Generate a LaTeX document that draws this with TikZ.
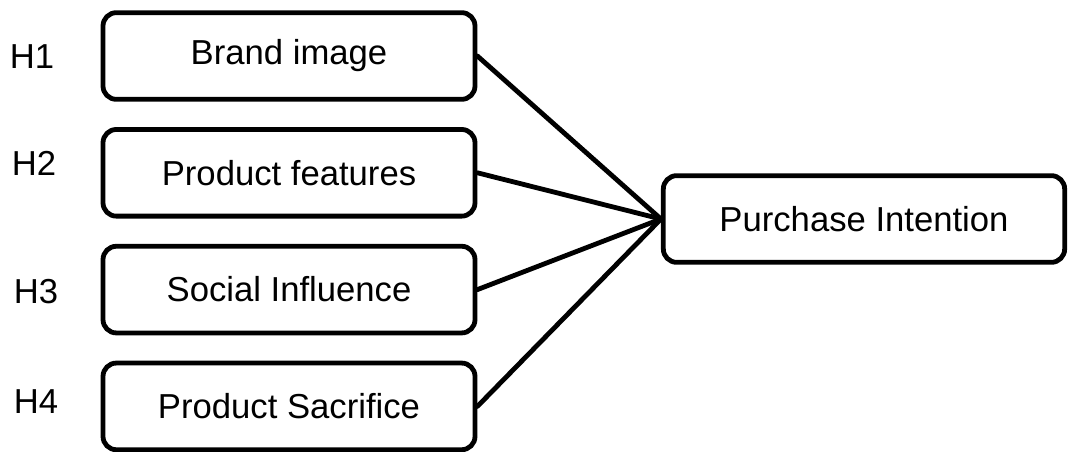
\documentclass[tikz,border=0pt]{standalone}
\usepackage{fontspec}
\setmainfont{Liberation Sans}
\usetikzlibrary{positioning}

\begin{document}
\begin{tikzpicture}[
    x=0.75pt, y=-0.75pt,
    node distance=19pt,
    factor/.style={rectangle, rounded corners=10pt, draw=black, line width=3.6pt, minimum width=279pt, minimum height=65pt, align=center, font=\fontsize{26}{30}\selectfont},
    result/.style={factor, minimum width=301pt},
    hyp/.style={font=\fontsize{26}{30}\selectfont},
    link/.style={line width=3.6pt, line cap=round}
]
    \useasboundingbox (0,0) rectangle (1070,452);

    \node[factor] (brand) at (289,56) {Brand image};
    \node[factor, below=of brand] (features) {Product features};
    \node[factor, below=of features] (social) {Social Influence};
    \node[factor, below=of social] (sacrifice) {Product Sacrifice};

    \node[result] (intention) at (864,219) {Purchase Intention};

    % hypotheses
    \node[hyp] (h1) at (32,57) {H1};
    \node[hyp] (h2) at (34,163) {H2};
    \node[hyp] (h3) at (36,292) {H3};
    \node[hyp] (h4) at (36,402) {H4};

    \draw[link] (brand.east) -- (intention.west);
    \draw[link] (features.east) -- (intention.west);
    \draw[link] (social.east) -- (intention.west);
    \draw[link] (sacrifice.east) -- (intention.west);
\end{tikzpicture}
\end{document}
